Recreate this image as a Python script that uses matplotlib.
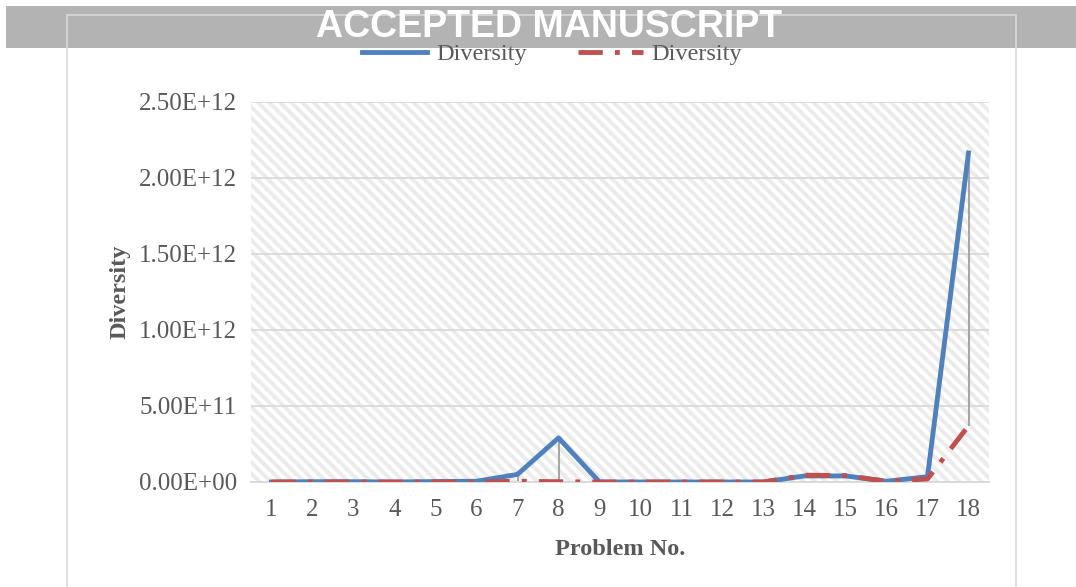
import matplotlib.pyplot as plt
import matplotlib.patches as mpatches
import numpy as np

problems = list(range(1, 19))
div_blue = [0.0, 0.002e12, 0.002e12, 0.0, 0.003e12, 0.005e12, 0.05e12, 0.29e12, 0.0,
            0.0, 0.0, 0.0, 0.0, 0.04e12, 0.04e12, 0.005e12, 0.035e12, 2.165e12]
div_red = [0.0, 0.0, 0.0, 0.0, 0.0, 0.0, 0.005e12, 0.002e12, 0.0,
           0.0, 0.0, 0.0, 0.0, 0.045e12, 0.042e12, 0.005e12, 0.02e12, 0.37e12]
yticks = [0, 0.5e12, 1.0e12, 1.5e12, 2.0e12, 2.5e12]
ytick_labels = ['0.00E+00', '5.00E+11', '1.00E+12', '1.50E+12', '2.00E+12', '2.50E+12']

plt.rcParams['font.family'] = ['Liberation Serif', 'DejaVu Serif']
plt.rcParams['hatch.linewidth'] = 2.8
txt = '#595959'

fig = plt.figure(figsize=(10.76, 5.87), dpi=100)
ax = fig.add_axes([251 / 1076, 105 / 587, 738 / 1076, 380 / 587])

# hatched plot background
ax.add_patch(mpatches.Rectangle((0, 0), 1, 1, transform=ax.transAxes,
                                facecolor='white', edgecolor='#ebebeb',
                                hatch='\\\\\\', lw=0, zorder=0))

x = np.arange(len(problems))
ax.vlines(x, np.minimum(div_blue, div_red), np.maximum(div_blue, div_red),
          color='#a6a6a6', lw=1.5, zorder=2)
ax.plot(x, div_blue, color='#4f81bd', lw=3.5, label='Diversity', zorder=3)
ax.plot(x, div_red, color='#c0504d', lw=3.5, label='Diversity', zorder=4,
        dashes=(5, 2.5, 1, 2.5))

ax.set_xlim(-0.5, len(problems) - 0.5)
ax.set_ylim(0, 2.5e12)
ax.set_yticks(yticks)
ax.set_yticklabels(ytick_labels)
ax.set_xticks(x)
ax.set_xticklabels([str(p) for p in problems])
ax.tick_params(length=0, labelsize=18, colors=txt)
ax.tick_params(axis='y', pad=10)
ax.tick_params(axis='x', pad=12)
ax.grid(axis='y', color='#dadada', lw=1.3)
ax.set_axisbelow(True)
for s in ['top', 'right', 'left']:
    ax.spines[s].set_visible(False)
ax.spines['bottom'].set_color('#d9d9d9')
ax.spines['bottom'].set_linewidth(1.3)

ax.set_xlabel('Problem No.', fontsize=17.5, fontweight='bold', color=txt, labelpad=13)
ax.set_ylabel('Diversity', fontsize=17.5, fontweight='bold', color=txt, labelpad=6)

leg = fig.legend(loc='center', bbox_to_anchor=(552 / 1076, 1 - 54 / 587), ncol=2,
                 frameon=False, fontsize=17.5, handlelength=2.7, columnspacing=2.1,
                 handletextpad=0.35)
for t in leg.get_texts():
    t.set_color(txt)

# watermark banner
fig.add_artist(mpatches.Rectangle((6 / 1076, 1 - 48 / 587), 1070 / 1076, 42 / 587,
                                  transform=fig.transFigure, facecolor='#b3b3b3',
                                  edgecolor='none', zorder=5))
fig.text(549 / 1076, 1 - 27 / 587, 'ACCEPTED MANUSCRIPT', ha='center', va='center',
         color='white', fontsize=27, fontweight='bold', family='Liberation Sans',
         zorder=6)

# chart border
fig.add_artist(mpatches.Rectangle((67 / 1076, -0.1), 949 / 1076, 1.075,
                                  transform=fig.transFigure, fill=False,
                                  edgecolor='#d9d9d9', lw=1.2, zorder=5.5))

fig.savefig('out.png', dpi=100)
